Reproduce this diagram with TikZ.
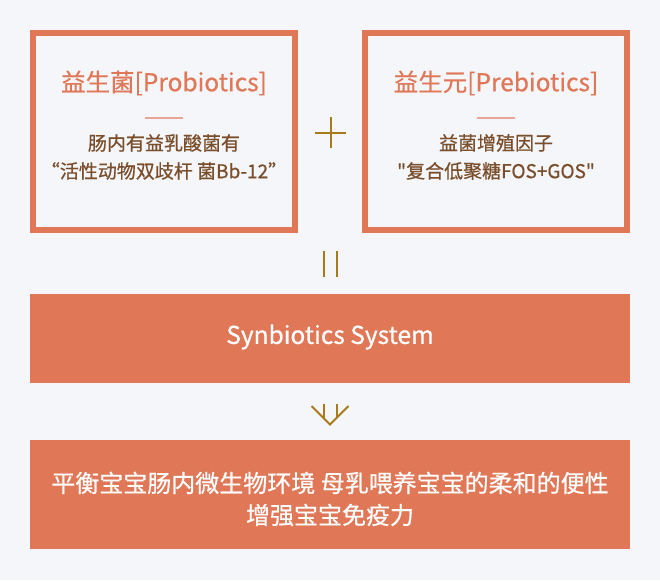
\documentclass[tikz,border=0pt]{standalone}
\usepackage{fontspec}
\setmainfont{Noto Sans CJK SC}
\newfontfamily\cjk{Noto Sans CJK SC}
\newfontfamily\cjkm[FakeBold=0.6]{Noto Sans CJK SC}
\definecolor{bgc}{HTML}{F4F6FA}
\definecolor{orng}{HTML}{E07858}
\definecolor{lightor}{HTML}{E8A594}
\definecolor{brn}{HTML}{7A4E2A}
\definecolor{gold}{HTML}{A87A1A}
\tikzset{
  framebox/.style={draw=orng, line width=6pt},
  bar/.style={fill=orng, draw=none},
  ttl/.style={text=orng, font=\cjkm\fontsize{24.5}{28}\selectfont, inner sep=0pt},
  body/.style={text=brn, font=\cjkm\fontsize{19}{28}\selectfont, align=center, inner sep=0pt},
  whitetxt/.style={text=white, font=\cjkm\fontsize{24}{32}\selectfont, align=center, inner sep=0pt},
  sep/.style={draw=lightor, line width=2pt},
  goldline/.style={draw=gold, line width=2pt},
}
\begin{document}
\begin{tikzpicture}[x=1pt,y=-1pt]
\fill[bgc] (0,0) rectangle (660,580);
\useasboundingbox (0,0) rectangle (660,580);
% boxes
\draw[framebox] (33,33) rectangle (294.5,230) node[pos=0,anchor=north west,inner sep=0pt] (b1) {};
\draw[framebox] (365,33) rectangle (626.5,230) node[pos=0,anchor=north west,inner sep=0pt] (b2) {};
% left texts
\node[ttl] (t1) at (164,83) {益生菌[Probiotics]};
\coordinate (s1a) at (145,118); \coordinate (s1b) at (183,118);
\draw[sep] (s1a) -- (s1b);
\node[body] (d1) at (164,157) {肠内有益乳酸菌有\\“活性动物双歧杆 菌Bb-12”};
% right texts
\node[ttl] (t2) at (496,83) {益生元[Prebiotics]};
\coordinate (s2a) at (477,118); \coordinate (s2b) at (515,118);
\draw[sep] (s2a) -- (s2b);
\node[body] (d2) at (496,157) {益菌增殖因子\\"复合低聚糖FOS+GOS"};
% plus
\coordinate (ph1) at (315,133); \coordinate (ph2) at (346,133);
\coordinate (pv1) at (330.5,117); \coordinate (pv2) at (330.5,148);
\draw[goldline] (ph1) -- (ph2);
\draw[goldline] (pv1) -- (pv2);
% equals
\coordinate (e1a) at (323.5,251); \coordinate (e1b) at (323.5,277);
\coordinate (e2a) at (337,251); \coordinate (e2b) at (337,277);
\draw[goldline] (e1a) -- (e1b);
\draw[goldline] (e2a) -- (e2b);
% synbiotics bar
\node[bar, minimum width=600pt, minimum height=89pt, inner sep=0pt] (syn) at (330,338.5) {};
\node[whitetxt, font=\cjkm\fontsize{24.5}{28}\selectfont] (synt) at (330,337) {Synbiotics System};
% arrow
\coordinate (va) at (311.5,406); \coordinate (vm) at (330,424.5); \coordinate (vb) at (348.5,406);
\coordinate (la) at (323.5,404); \coordinate (lb) at (323.5,417.5);
\coordinate (ra) at (336.5,404); \coordinate (rb) at (336.5,417.5);
\draw[goldline, line join=miter] (va) -- (vm) -- (vb);
\draw[goldline] (la) -- (lb);
\draw[goldline] (ra) -- (rb);
% bottom bar
\node[bar, minimum width=600pt, minimum height=109pt, inner sep=0pt] (res) at (330,494.5) {};
\node[whitetxt] (rest) at (330,499) {平衡宝宝肠内微生物环境 母乳喂养宝宝的柔和的便性\\增强宝宝免疫力};
\end{tikzpicture}
\end{document}
